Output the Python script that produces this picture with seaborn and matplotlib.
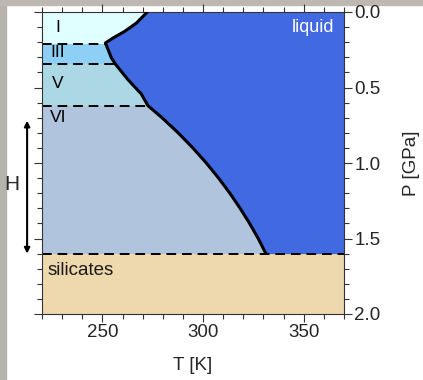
import numpy as np
import pandas as pd
import matplotlib
matplotlib.use("Agg")
import matplotlib.pyplot as plt
from matplotlib.patches import Rectangle
from matplotlib.ticker import MultipleLocator, FormatStrFormatter
import seaborn as sns

# Phase boundaries of water ice (pressure in GPa)
phase_names = ["I", "III", "V", "VI"]
phase_top = [0.0, 0.21, 0.346, 0.62]
phase_bottom = [0.21, 0.346, 0.62, 1.6]
phase_colors = ["#e0ffff", "#8dcff5", "#acd8e5", "#b0c4de"]
phase_label_P = [0.10, 0.27, 0.475, 0.70]

# Melting curve (temperature K, pressure GPa)
melt_T = [272.3, 266.9, 261.1, 255.3, 251.5, 254.5, 256.5, 262.7, 269.3,
          272.6, 279.6, 287.6, 294.9, 301.6, 307.7, 313.3, 318.4, 323.1, 327.4, 331.2]
melt_P = [0.0, 0.073, 0.128, 0.172, 0.205, 0.305, 0.346, 0.448, 0.543,
          0.62, 0.70, 0.80, 0.90, 1.00, 1.10, 1.20, 1.30, 1.40, 1.50, 1.6]

silicate_top = 1.6
silicate_bottom = 2.0
T_min, T_max = 220, 370

sns.set_theme(style="white")
plt.rcParams["font.family"] = ["Liberation Sans", "DejaVu Sans"]

fig = plt.figure(figsize=(4.23, 3.80), dpi=100)
ax = fig.add_axes([42 / 423, 1 - 314 / 380, 302 / 423, 302 / 380])

# ice phase bands
for top, bot, col in zip(phase_top, phase_bottom, phase_colors):
    ax.axhspan(top, bot, color=col, lw=0, zorder=0)
ax.axhspan(silicate_top, silicate_bottom, color="#eed8ad", lw=0, zorder=0)

# liquid region to the right of the melting curve
ax.fill_betweenx(melt_P, melt_T, T_max, color="#4169e1", lw=0, zorder=1)

# dashed phase transitions
curve = pd.DataFrame({"T": melt_T, "P": melt_P})
for p in phase_bottom[:-1]:
    t_edge = np.interp(p, melt_P[4:], melt_T[4:]) if p > 0.21 else 251.5
    ax.plot([T_min, t_edge], [p, p], color="black", lw=1.4, ls=(0, (5, 3)), zorder=2)
ax.axhline(silicate_top, color="black", lw=1.4, ls=(0, (5, 3)), zorder=2)

sns.lineplot(data=curve, x="T", y="P", sort=False, estimator=None,
             color="black", lw=2.2, ax=ax, zorder=3)

# labels
for name, p in zip(phase_names, phase_label_P):
    ax.text(228, p, name, ha="center", va="center", fontsize=12.5, color="black")
ax.text(365, 0.105, "liquid", ha="right", va="center", fontsize=13, color="white")
ax.text(222.5, 1.71, "silicates", ha="left", va="center", fontsize=13.5, color="#1a1a1a")

# H arrow outside the axes
ax.annotate("", xy=(212.6, 1.6), xytext=(212.6, 0.72),
            arrowprops=dict(arrowstyle="<|-|>", color="black", lw=1.5,
                            mutation_scale=8, shrinkA=0, shrinkB=0),
            annotation_clip=False)
ax.text(205, 1.14, "H", ha="center", va="center", fontsize=15, clip_on=False)

ax.set_xlim(T_min, T_max)
ax.set_ylim(silicate_bottom, 0.0)
ax.xaxis.set_major_locator(MultipleLocator(50))
ax.xaxis.set_minor_locator(MultipleLocator(10))
ax.yaxis.set_major_locator(MultipleLocator(0.5))
ax.yaxis.set_minor_locator(MultipleLocator(0.1))
ax.yaxis.tick_right()
ax.yaxis.set_label_position("right")
ax.yaxis.set_major_formatter(FormatStrFormatter("%.1f"))
ax.tick_params(which="both", direction="out", top=True, bottom=True, left=True, right=True,
               labelleft=False, labelright=True, color="#333333", width=0.8)
ax.tick_params(which="major", length=5.5, labelsize=13.5, pad=2)
ax.tick_params(which="minor", length=3.5)
ax.set_xlabel("T [K]", fontsize=13.5, labelpad=11)
ax.set_ylabel("P [GPa]", fontsize=13.5, labelpad=16)
for s in ax.spines.values():
    s.set_color("#333333")
    s.set_linewidth(0.8)

# gray frame strips along the left and top edges
fig.patches.append(Rectangle((0, 0), 6 / 423, 1, transform=fig.transFigure,
                             color="#b6b2ae", zorder=-1))
fig.patches.append(Rectangle((0, 1 - 5 / 380), 1, 5 / 380, transform=fig.transFigure,
                             color="#bdb8b2", zorder=-1))

fig.savefig("out.png", dpi=100)
